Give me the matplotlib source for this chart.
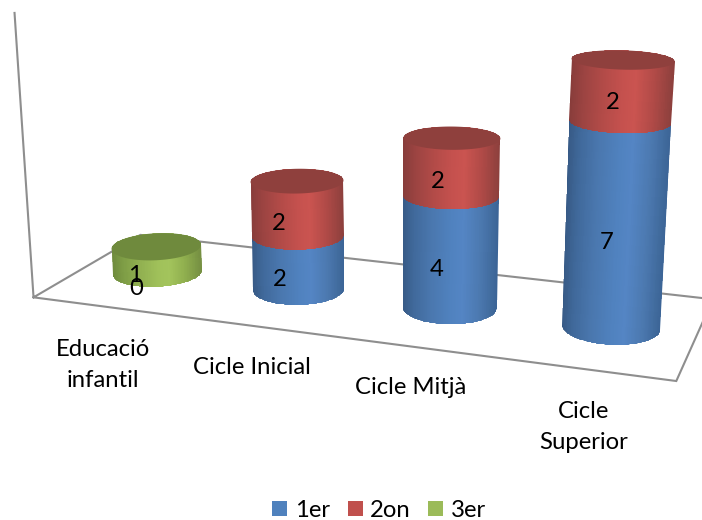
import numpy as np
import matplotlib
matplotlib.use('Agg')
import matplotlib.pyplot as plt
from matplotlib.colors import LinearSegmentedColormap
from matplotlib.patches import Polygon, Patch

plt.rcParams['font.family'] = ['Lato', 'DejaVu Sans']

# data
categories = ['Educació\ninfantil', 'Cicle Inicial', 'Cicle Mitjà', 'Cicle\nSuperior']
series_names = ['1er', '2on', '3er']
serie_1er = [0, 2, 4, 7]
serie_2on = [None, 2, 2, 2]
serie_3er = [1, None, None, None]
series = [serie_1er, serie_2on, serie_3er]

# colours: legend, side shading from left to right, cap
legend_colors = ['#4f81bd', '#c0504d', '#9bbb59']
side_colors = [['#375a85', '#40699b', '#4a77ae', '#5082bf', '#5485c4', '#4c79b0', '#3c6596'],
               ['#873c3a', '#9a4341', '#b04a47', '#c5514e', '#ca5450', '#b04a47', '#8d403d'],
               ['#6d8a3c', '#7d9c45', '#90af50', '#a0c15a', '#a3c45c', '#8fae4e', '#758f42']]
side_stops = [0, .12, .3, .52, .64, .82, 1]
cap_colors = ['#44709f', '#8f403d', '#6f8a3d']

# camera calibration: (category, value, depth) -> image pixel
calib_3d = [(-.5, 0, -1), (3.5, 0, -1), (3.5, 0, 1), (-.5, 0, 1),
            (0, 0, 0), (1, 0, 0), (2, 0, 0), (3, 0, 0),
            (-.5, 10, -1), (3, 9, 0), (3, 7, 0), (2, 6, 0), (2, 4, 0),
            (1, 4, 0), (1, 2, 0), (0, 1, 0)]
calib_px = [(33, 296), (676, 381), (713, 298), (140, 234),
            (158, 273), (298, 289), (450, 307), (612, 327),
            (15, 12), (623, 59), (620, 122), (451, 137), (450, 197),
            (298, 182), (298, 238), (157, 247)]

A, b = [], []
for (c, v, d), (px, py) in zip(calib_3d, calib_px):
    A.append([c, v, d, 1, 0, 0, 0, 0, -px * c, -px * v, -px * d])
    A.append([0, 0, 0, 0, c, v, d, 1, -py * c, -py * v, -py * d])
    b += [px, py]
sol = np.linalg.lstsq(np.array(A, float), np.array(b, float), rcond=None)[0]
P = np.append(sol, 1.0).reshape(3, 4)


def project(c, v, d):
    c, v, d = np.broadcast_arrays(c, v, d)
    pts = np.stack([c, v, d, np.ones_like(c, dtype=float)])
    x, y, w = P @ pts
    return x / w, y / w


R_C = 0.287
R_D = 0.42
T = np.linspace(0, 2 * np.pi, 181)[:-1]


def ring(c, v):
    return project(c + R_C * np.cos(T), v, R_D * np.sin(T))


def hull(x, y):
    pts = sorted(set(zip(np.round(x, 3), np.round(y, 3))))
    def half(seq):
        out = []
        for p in seq:
            while len(out) > 1 and ((out[-1][0] - out[-2][0]) * (p[1] - out[-2][1])
                                    - (out[-1][1] - out[-2][1]) * (p[0] - out[-2][0])) <= 0:
                out.pop()
            out.append(p)
        return out[:-1]
    return np.array(half(pts) + half(pts[::-1]))


def draw_segment(ax, c, v0, v1, k):
    x0, y0 = ring(c, v0)
    x1, y1 = ring(c, v1)
    shape = Polygon(hull(np.r_[x0, x1], np.r_[y0, y1]), closed=True, fc='none', ec='none', zorder=3)
    ax.add_patch(shape)
    # shading follows the lean of the cylinder
    i0, j0 = np.argmin(x0), np.argmax(x0)
    i1, j1 = np.argmin(x1), np.argmax(x1)
    u = np.linspace(0, 1, 121)
    xb = x0[i0] + (x0[j0] - x0[i0]) * u
    yb = y0[i0] + (y0[j0] - y0[i0]) * u
    xt = x1[i1] + (x1[j1] - x1[i1]) * u
    yt = y1[i1] + (y1[j1] - y1[i1]) * u
    # run the strips past both ends along the lean, the clip trims them
    ext = 40 / np.maximum(yb - yt, 1)
    X = np.vstack([xb - (xt - xb) * ext, xt + (xt - xb) * ext])
    Y = np.vstack([yb + 40, yt - 40])
    cmap = LinearSegmentedColormap.from_list('side', list(zip(side_stops, side_colors[k])))
    mesh = ax.pcolormesh(X, Y, (u[:-1] + u[1:])[None, :] / 2, cmap=cmap, vmin=0, vmax=1,
                         shading='flat', zorder=3, rasterized=True, edgecolor='none',
                         antialiased=False)
    mesh.set_clip_path(shape)
    # narrow margin so the clip never shows the ground at the sides
    shape.set_edgecolor(side_colors[k][0])
    shape.set_linewidth(0)


W, H = 702, 520
fig = plt.figure(figsize=(W / 100, H / 100), dpi=100)
ax = fig.add_axes([0, 0, 1, 1])

# walls and floor
frame = [(-.5, 10, -1), (-.5, 0, -1), (3.5, 0, -1), (3.5, 0, 1), (-.5, 0, 1), (-.5, 0, -1)]
cc, vv, dd = zip(*frame)
fx, fy = project(np.array(cc, float), np.array(vv, float), np.array(dd, float))
ax.plot(fx, fy, color='#8e8e8e', lw=1.5, zorder=1, solid_joinstyle='miter')

# cylinders
for c in range(len(categories)):
    base = 0
    top_k = None
    for k, s in enumerate(series):
        val = s[c]
        if not val:
            continue
        draw_segment(ax, c, base, base + val, k)
        base += val
        top_k = k
    cx, cy = ring(c, base)
    ax.fill(cx, cy, color=cap_colors[top_k], lw=0, zorder=4)

# value labels
for c in range(len(categories)):
    base = 0
    for k, s in enumerate(series):
        val = s[c]
        if val is None:
            continue
        lx, ly = project(c + .02, base + val / 2, -R_D - .06)
        ax.text(float(lx), float(ly), str(val), ha='center', va='center', fontsize=17.2,
                color='black', zorder=6)
        base += val

# category labels
label_pos = [(103, 365), (252, 367), (411, 388), (584, 427)]
for name, (lx, ly) in zip(categories, label_pos):
    ax.text(lx, ly, name, ha='center', va='center', fontsize=17.2, color='black',
            linespacing=1.6, zorder=6)

handles = [Patch(fc=col, ec='none') for col in legend_colors]
fig.legend(handles, series_names, loc='lower center', bbox_to_anchor=(0.54, -0.006), ncol=3,
           frameon=False, fontsize=17.2, handlelength=.63, handleheight=.63,
           handletextpad=.3, columnspacing=.75, borderpad=0, borderaxespad=0.1)

ax.set_xlim(0, W)
ax.set_ylim(H, 0)
ax.axis('off')
fig.savefig('out.png', dpi=100)
